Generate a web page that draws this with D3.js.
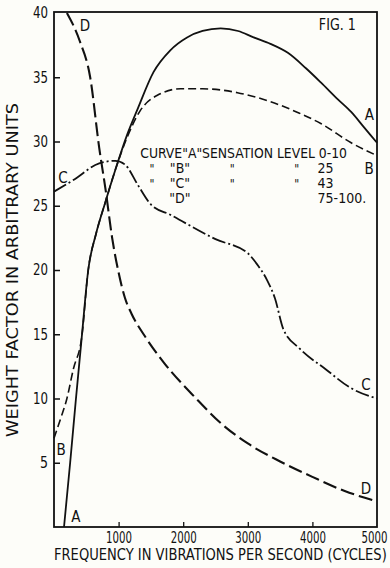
<!DOCTYPE html>
<html><head><meta charset="utf-8">
<script src="https://cdn.jsdelivr.net/npm/d3@7"></script>
<style>
html,body{margin:0;padding:0;background:#fdfdf9;}
svg{display:block;}
text{font-family:"DejaVu Sans Condensed","DejaVu Sans",sans-serif;fill:#111;}
</style></head>
<body>
<svg id="c" width="390" height="568"></svg>
<script>
// ---- data (frequency in Hz, weight factor) ----
const curveAFreq = [155, 250, 340, 430, 530, 650, 790, 950, 1130, 1300, 1540, 1800, 2060, 2300, 2580, 2850, 3090, 3350, 3620, 3900, 4130, 4390, 4600, 4800, 5000];
const curveAVal  = [0, 5, 10, 14.8, 20, 22.8, 25.2, 27.8, 30.5, 32.6, 35.4, 37.1, 38.1, 38.6, 38.8, 38.6, 38.1, 37.6, 36.9, 35.7, 34.6, 33.3, 32.3, 31.1, 29.9];
const curveBFreq = [0, 100, 200, 300, 430, 530, 650, 790, 950, 1130, 1335, 1600, 1960, 2300, 2840, 3350, 3800, 4130, 4600, 5000];
const curveBVal  = [6.9, 8.4, 10, 12.3, 14.8, 20, 22.8, 25.2, 27.8, 30.3, 32.4, 33.6, 34.1, 34.1, 33.8, 33.1, 32.2, 31.4, 29.9, 28.9];
const curveCFreq = [0, 300, 700, 950, 1100, 1300, 1500, 1800, 2500, 3000, 3150, 3300, 3420, 3550, 3800, 4200, 4600, 5000];
const curveCVal  = [26.1, 27.0, 28.3, 28.5, 28.2, 26.6, 25.1, 24.3, 22.4, 21.3, 20.4, 19.2, 17.8, 15.4, 13.9, 12.3, 10.8, 10.0];
const curveDFreq = [200, 400, 560, 700, 800, 900, 1000, 1100, 1200, 1400, 1700, 2200, 2600, 3000, 3500, 4000, 4500, 5000];
const curveDVal  = [40, 37.8, 35, 29.5, 26.2, 22.5, 19.8, 17.8, 16.6, 14.9, 12.8, 10.0, 8.0, 6.5, 5.1, 3.9, 2.8, 2.0];

const yTicks = [5, 10, 15, 20, 25, 30, 35, 40];
const xTicks = [1000, 2000, 3000, 4000, 5000];
const xTitle = "FREQUENCY IN VIBRATIONS PER SECOND (CYCLES)";
const yTitle = "WEIGHT FACTOR IN ARBITRARY UNITS";
const figTitle = "FIG. 1";

// curve end labels: [text, freq, value]
const curveLabels = [["D", 480, 38.6], ["C", 140, 26.8], ["B", 110, 5.6], ["A", 340, 0.4],
                     ["A", 4880, 31.7], ["B", 4880, 27.5], ["C", 4830, 10.7], ["D", 4830, 2.6]];
// legend rows
const legendHead = "CURVE\"A\"SENSATION LEVEL 0-10";
const legendCurves = ["\"B\"", "\"C\"", "\"D\""];
const legendLevels = ["25", "43", "75-100."];

// ---- drawing ----
const svg = d3.select("#c");
const x = d3.scaleLinear().domain([0, 5000]).range([54, 377]);
const y = d3.scaleLinear().domain([0, 40]).range([527, 13]);

// squeeze a text horizontally to a target width, anchored at (px,py)
function fit(sel, px, py, w, rot) {
  const node = sel.node();
  const L = node.getComputedTextLength();
  const k = w / L;
  sel.attr("x", 0).attr("y", 0)
     .attr("transform", `translate(${px},${py})${rot ? ` rotate(${rot})` : ""} scale(${k},1)`);
}

// axes
const gy = svg.append("g").attr("transform", `translate(${x(0)},0)`)
  .call(d3.axisLeft(y).tickValues(yTicks).tickFormat(d3.format("d")).tickSizeInner(-6).tickSizeOuter(0).tickPadding(6));
gy.select(".domain").remove();
gy.selectAll(".tick line").attr("stroke", "#111").attr("stroke-width", 1.5)
  .filter(d => d === 40).remove();
gy.selectAll(".tick text").attr("font-size", 15)
  .style("font-family", "'DejaVu Sans Condensed','DejaVu Sans',sans-serif").attr("fill", "#111")
  .each(function(d) {
    const t = d3.select(this);
    const w = d >= 10 ? 15 : 8;
    fit(t, -6, 0, w);
  });

const gx = svg.append("g").attr("transform", `translate(0,${y(0)})`)
  .call(d3.axisBottom(x).tickValues(xTicks).tickFormat(d3.format("d")).tickSizeInner(-5).tickSizeOuter(0).tickPadding(5));
gx.select(".domain").remove();
gx.selectAll(".tick line").attr("stroke", "#111").attr("stroke-width", 1.3)
  .filter(d => d === 5000).remove();
gx.selectAll(".tick text").attr("font-size", 15)
  .style("font-family", "'DejaVu Sans Condensed','DejaVu Sans',sans-serif").attr("fill", "#111")
  .each(function(d) {
    const t = d3.select(this);
    const dy = t.attr("dy");
    fit(t, d === 5000 ? -3 : 0, 5, 26);
    t.attr("dy", dy);
  });

// frame
svg.append("rect").attr("x", x(0)).attr("y", y(40) - 1).attr("width", x(5000) - x(0)).attr("height", y(0) - y(40) + 1)
  .attr("fill", "none").attr("stroke", "#111").attr("stroke-width", 1.8);

// curves
const line = d3.line().x(d => x(d[0])).y(d => y(d[1])).curve(d3.curveMonotoneX);
const zip = (a, b) => a.map((v, i) => [v, b[i]]);
const plot = svg.append("g").attr("fill", "none").attr("stroke", "#111").attr("stroke-linecap", "butt");
plot.append("path").attr("d", line(zip(curveAFreq, curveAVal))).attr("stroke-width", 1.8);
plot.append("path").attr("d", line(zip(curveBFreq, curveBVal))).attr("stroke-width", 1.6).attr("stroke-dasharray", "8,4");
plot.append("path").attr("d", line(zip(curveCFreq, curveCVal))).attr("stroke-width", 1.8).attr("stroke-dasharray", "14,3,2,3");
plot.append("path").attr("d", line(zip(curveDFreq, curveDVal))).attr("stroke-width", 2.1).attr("stroke-dasharray", "14,5");

// curve labels
svg.append("g").selectAll("text").data(curveLabels).join("text")
  .attr("x", d => x(d[1])).attr("y", d => y(d[2])).attr("text-anchor", "middle")
  .attr("font-size", 15).text(d => d[0]);

// fig title
fit(svg.append("text").attr("font-size", 15).text(figTitle), x(4100), y(38.7), 37);

// legend
const lg = svg.append("g").attr("font-size", 14);
fit(lg.append("text").text(legendHead), x(1335), y(28.75), 207);
legendCurves.forEach((c, i) => {
  const vy = y(28.75) + 15 * (i + 1);
  lg.append("text").attr("x", x(1950)).attr("y", vy).attr("text-anchor", "middle").text(c);
  if (i < 2) {
    [1480, 2720, 3720].forEach(f => {
      lg.append("text").attr("x", x(f)).attr("y", vy).attr("font-size", 12).text("\"");
    });
  }
  lg.append("text").attr("x", x(4080)).attr("y", vy).text(legendLevels[i]);
});

// axis titles
fit(svg.append("text").attr("font-size", 15).text(xTitle), x(0), 560, 333);
fit(svg.append("text").attr("font-size", 16).attr("text-anchor", "middle").text(yTitle), 18, y(20), 334, -90);
</script>
</body></html>
